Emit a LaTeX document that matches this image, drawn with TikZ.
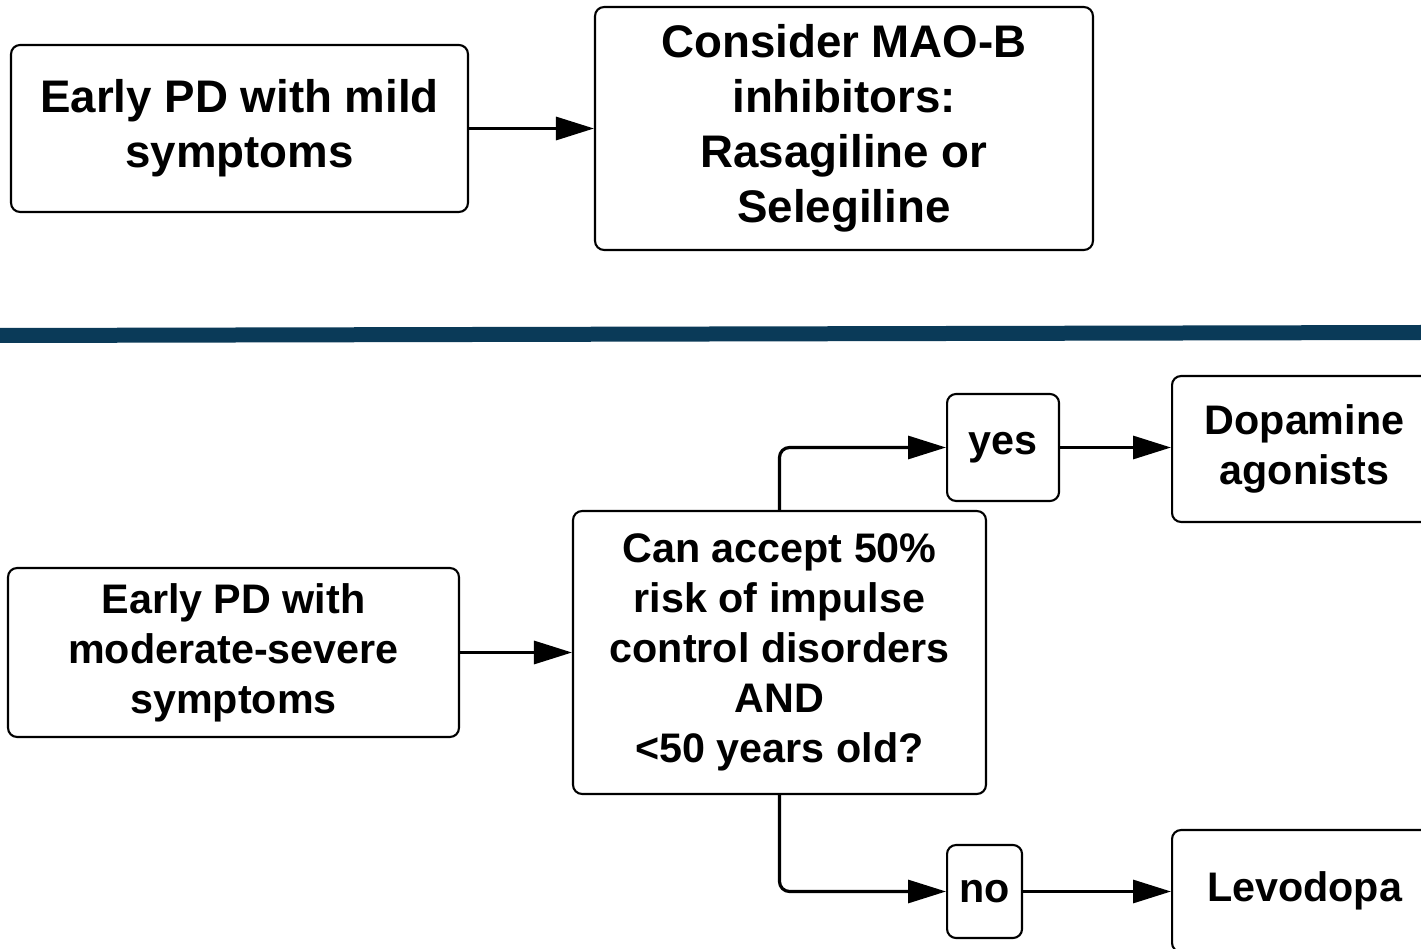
\documentclass[tikz,border=0pt]{standalone}
\usepackage{fontspec}
\setmainfont{Liberation Sans}
\usetikzlibrary{arrows.meta, positioning}
\definecolor{divider}{RGB}{10,58,88}

\begin{document}
\begin{tikzpicture}[
    x=0.02cm, y=-0.02cm,
    box/.style={draw, line width=1.2pt, rounded corners=0.18cm, align=center, inner sep=0pt},
    bigtext/.style={font=\fontsize{26}{31.3}\selectfont\bfseries},
    smalltext/.style={font=\fontsize{23.5}{28.5}\selectfont\bfseries},
    arrow/.style={-{Triangle[length=0.76cm, width=0.46cm]}, line width=1.8pt}
]
\useasboundingbox (0,0) rectangle (1421,949);
\clip (0,0) rectangle (1421,949);

% Mild symptoms
\node[box, bigtext, minimum width=9.14cm, minimum height=3.34cm] (mild) at (239.5,128.5) {Early PD with mild\\symptoms};
\node[box, bigtext, minimum width=9.96cm, minimum height=4.86cm, right=2.5cm of mild] (maob) {Consider MAO-B\\inhibitors:\\Rasagiline or\\Selegiline};

% Divider
\fill[divider] (0,328) -- (1421,325) -- (1421,340) -- (0,343) -- cycle;

% Moderate-severe symptoms
\node[box, smalltext, minimum width=9.02cm, minimum height=3.38cm] (modsev) at (233.5,652.5) {Early PD with\\moderate-severe\\symptoms};
\node[box, smalltext, minimum width=8.26cm, minimum height=5.66cm, right=2.24cm of modsev] (accept) {Can accept 50\%\\risk of impulse\\control disorders\\AND\\<50 years old?};

% Answers
\node[box, smalltext, minimum width=2.24cm, minimum height=2.14cm, anchor=west] (yes) at (946,447.5) {yes};
\node[box, smalltext, minimum width=1.5cm, minimum height=1.86cm, anchor=west] (no) at (946,891.5) {no};

% Treatments
\node[box, smalltext, minimum width=5.3cm, minimum height=2.92cm, anchor=west] (dopa) at (1171,449) {Dopamine\\agonists};
\node[box, smalltext, minimum width=5.3cm, minimum height=2.44cm, anchor=west] (levo) at (1171,891) {Levodopa};

% Arrows
\draw[arrow] (mild) -- (maob);
\draw[arrow] (modsev) -- (accept);
\draw[arrow, rounded corners=0.2cm] (accept.north) |- (yes.west);
\draw[arrow, rounded corners=0.2cm] (accept.south) |- (no.west);
\draw[arrow] (yes.east) -- (yes.east -| dopa.west);
\draw[arrow] (no.east) -- (no.east -| levo.west);

\end{tikzpicture}
\end{document}
